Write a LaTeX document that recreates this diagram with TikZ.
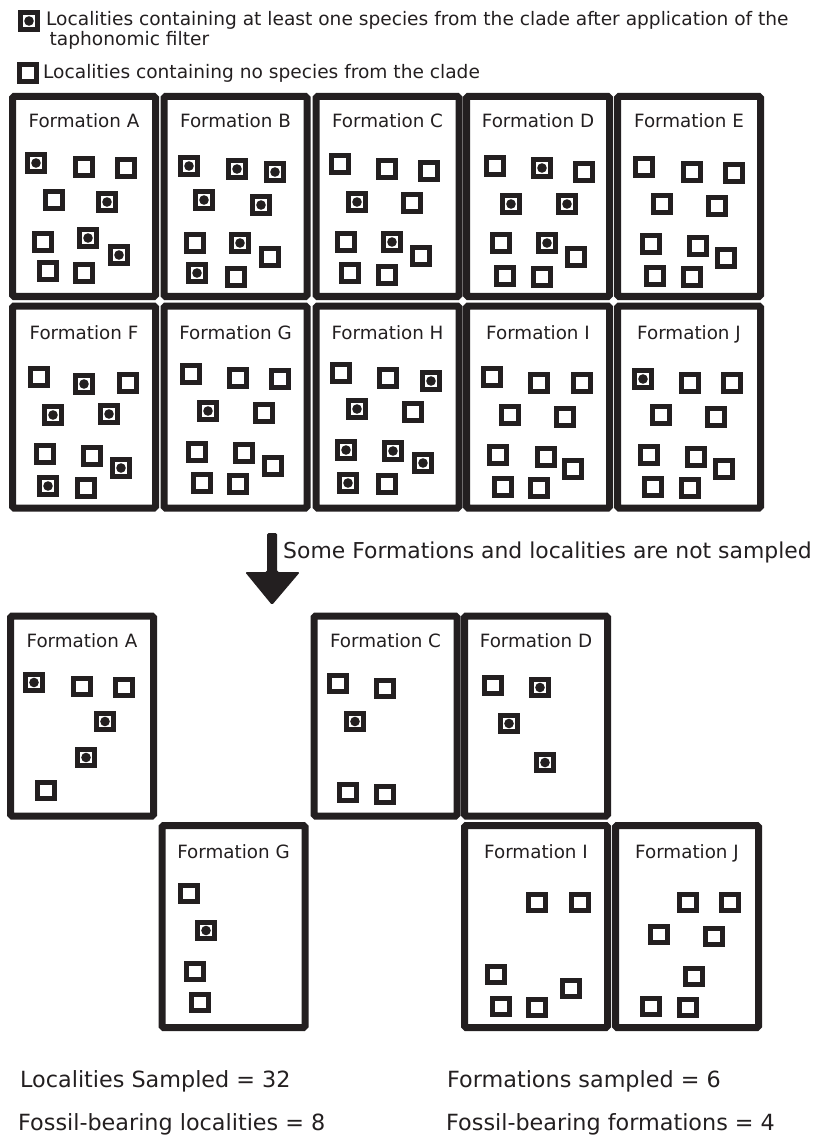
\documentclass[tikz,border=0pt]{standalone}
\usepackage{fontspec}
\setmainfont{DejaVu Sans}
\definecolor{ink}{HTML}{231F20}
\newcommand\locset[2]{%
  \foreach \px/\py/\pt [count=\pi] in {#2} {
    \node[loc\pt] (#1-\pi) at (\px,\py) {};
  }}
\begin{document}
\begin{tikzpicture}[x=1pt,y=-1pt,
  fbox/.style={draw=ink, line width=7, rounded corners=1.5, minimum width=143, minimum height=200, inner sep=0, outer sep=0},
  fboxb/.style={fbox, minimum height=202},
  flabel/.style={anchor=base, text=ink, font=\fontsize{18.3}{22}\selectfont, inner sep=0},
  locE/.style={draw=ink, line width=5, minimum size=16.5, inner sep=0, outer sep=0, fill=white},
  locF/.style={locE, path picture={\fill[ink] (path picture bounding box.center) circle (4.8pt);}},
  legtext/.style={anchor=base west, text=ink, font=\fontsize{18.6}{22}\selectfont, inner sep=0},
  bigtext/.style={anchor=base west, text=ink, font=\fontsize{22.3}{26}\selectfont, inner sep=0}
]
\useasboundingbox (0,0) rectangle (820,1139);

% ---------- legend ----------
\node[locF, minimum size=17] (legF) at (29,21) {};
\node[legtext] (leg1) at (46,26) {Localities containing at least one species from the clade after application of the};
\node[legtext] (leg1b) at (49.5,46) {taphonomic filter};
\node[locE, minimum size=17] (legE) at (28,73.5) {};
\node[legtext] (leg2) at (43,79) {Localities containing no species from the clade};

% ---------- top grid, row 1 ----------
\node[fbox] (tA) at (84,196.5) {};
\node[fbox] (tB) at (235.5,196.5) {};
\node[fbox] (tC) at (387.5,196.5) {};
\node[fbox] (tD) at (538,196.5) {};
\node[fbox] (tE) at (689,196.5) {};
\node[flabel] (tA-l) at (84,128) {Formation A};
\node[flabel] (tB-l) at (235.5,128) {Formation B};
\node[flabel] (tC-l) at (387.5,128) {Formation C};
\node[flabel] (tD-l) at (538,128) {Formation D};
\node[flabel] (tE-l) at (689,128) {Formation E};
\locset{tA}{36/163/F, 84/167/E, 126/168/E, 54/200/E, 107/202/F, 43/242/E, 88/238/F, 119/255/F, 48/271/E, 84/273/E}
\locset{tB}{189/166/F, 237/169/F, 275/172/F, 204/200/F, 261/205/F, 195/243/E, 240/243/F, 270/257/E, 197/273/F, 236/277/E}
\locset{tC}{340/164/E, 387/169/E, 429/171/E, 357/202/F, 412/203/E, 346/242/E, 392/242/F, 421/256/E, 350/273/E, 387/275/E}
\locset{tD}{495/166/E, 542/168/F, 584/172/E, 511/204/F, 567/204/F, 501/243/E, 547/243/F, 576/257/E, 505/276/E, 542/277/E}
\locset{tE}{644/167/E, 692/172/E, 734/173/E, 662/204/E, 717/206/E, 651/244/E, 698/246/E, 726/258/E, 655/276/E, 692/277/E}

% ---------- top grid, row 2 ----------
\node[fboxb] (tF) at (84,407) {};
\node[fboxb] (tG) at (235.5,407) {};
\node[fboxb] (tH) at (387.5,407) {};
\node[fboxb] (tI) at (538,407) {};
\node[fboxb] (tJ) at (689,407) {};
\node[flabel] (tF-l) at (84,339) {Formation F};
\node[flabel] (tG-l) at (235.5,339) {Formation G};
\node[flabel] (tH-l) at (387.5,339) {Formation H};
\node[flabel] (tI-l) at (538,339) {Formation I};
\node[flabel] (tJ-l) at (689,339) {Formation J};
\locset{tF}{39/377/E, 84/384/F, 128/383/E, 53/415/F, 109/414/F, 45/454/E, 92/456/E, 121/468/F, 48/486/F, 86/488/E}
\locset{tG}{191/374/E, 238/378/E, 280/379/E, 208/411/F, 264/413/E, 197/452/E, 244/453/E, 273/466/E, 202/483/E, 238/484/E}
\locset{tH}{341/373/E, 388/378/E, 431/381/F, 357/409/F, 413/412/E, 346/450/F, 393/451/F, 423/463/F, 348/483/F, 387/484/E}
\locset{tI}{492/377/E, 539/383/E, 582/383/E, 510/415/E, 565/417/E, 498/455/E, 546/457/E, 573/469/E, 503/487/E, 539/488/E}
\locset{tJ}{643/379/F, 690/383/E, 732/383/E, 661/415/E, 716/417/E, 649/455/E, 696/457/E, 724/469/E, 653/487/E, 690/488/E}

% ---------- arrow ----------
\coordinate (arrS) at (272,533);
\coordinate (arrE) at (272,605);
\fill[ink, rounded corners=1.5] (arrS) ++(-5,0) -- ++(10,0) -- ++(0,39) -- ++(23,0) -- (arrE) -- ++(-27,-33) -- ++(22,0) -- cycle;
\node[bigtext, font=\fontsize{21.9}{26}\selectfont] (note) at (283,558) {Some Formations and localities are not sampled};

% ---------- sampled formations ----------
\begin{scope}[shift={(-2,519.5)}]
\node[fbox] (bA) at (84,196.5) {};
\node[fbox] (bC) at (387.5,196.5) {};
\node[fbox] (bD) at (538,196.5) {};
\node[fboxb] (bG) at (235.5,407) {};
\node[fboxb] (bI) at (538,407) {};
\node[fboxb] (bJ) at (689,407) {};
\node[flabel] (bA-l) at (84,128) {Formation A};
\node[flabel] (bC-l) at (387.5,128) {Formation C};
\node[flabel] (bD-l) at (538,128) {Formation D};
\node[flabel] (bG-l) at (235.5,339) {Formation G};
\node[flabel] (bI-l) at (538,339) {Formation I};
\node[flabel] (bJ-l) at (689,339) {Formation J};
\locset{bA}{36/163/F, 84/167/E, 126/168/E, 107/202/F, 88/238/F, 48/271/E}
\locset{bC}{340/164/E, 387/169/E, 357/202/F, 350/273/E, 387/275/E}
\locset{bD}{495/166/E, 542/168/F, 511/204/F, 547/243/F}
\locset{bG}{191/374/E, 208/411/F, 197/452/E, 202/483/E}
\locset{bI}{539/383/E, 582/383/E, 498/455/E, 573/469/E, 503/487/E, 539/488/E}
\locset{bJ}{690/383/E, 732/383/E, 661/415/E, 716/417/E, 696/457/E, 653/487/E, 690/488/E}
\end{scope}

% ---------- summary ----------
\node[bigtext] (s1) at (20,1087) {Localities Sampled = 32};
\node[bigtext] (s2) at (18,1130) {Fossil-bearing localities = 8};
\node[bigtext] (s3) at (447,1087) {Formations sampled = 6};
\node[bigtext] (s4) at (446,1130) {Fossil-bearing formations = 4};
\end{tikzpicture}
\end{document}
